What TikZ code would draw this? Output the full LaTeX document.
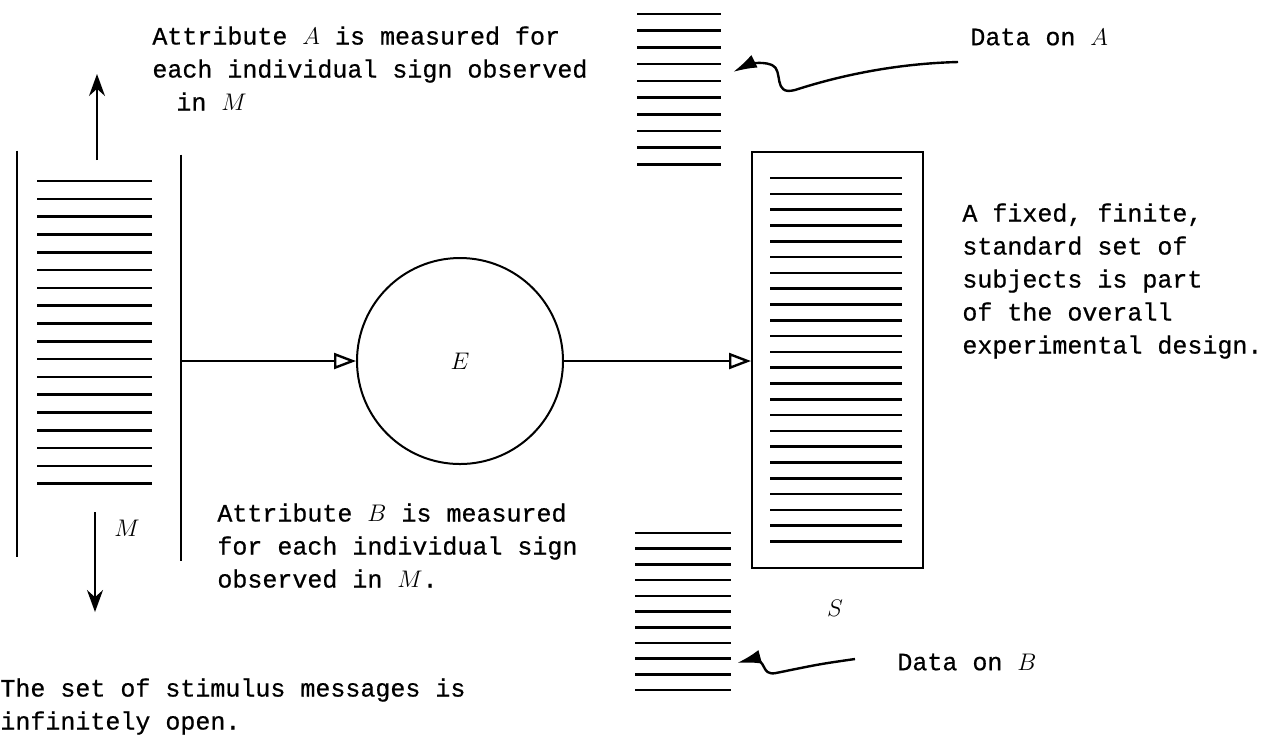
\documentclass[tikz,border=0pt]{standalone}
\usepackage{fontspec}
\usepackage{tikz}
\usetikzlibrary{arrows.meta,positioning,shapes}
\newfontfamily\typer[FakeBold=0.6]{Liberation Mono}
\tikzstyle{note}=[font=\typer\fontsize{12.5}{16.5}\selectfont, align=left,
  inner sep=0pt]
\tikzstyle{tag}=[font=\fontsize{12.5}{15}\selectfont, inner sep=1pt]
\tikzstyle{wall}=[line width=1pt]
\tikzstyle{hatch}=[line width=1.3pt]
\tikzstyle{flow}=[-{Triangle[open,length=11pt,width=8pt,line width=1.2pt]}, line width=0.7pt]
\tikzstyle{openarrow}=[-{Stealth[length=11pt,width=8pt]}, line width=0.8pt]
\tikzstyle{squig}=[-{Latex[length=12pt,width=7pt]}, line width=1.2pt]

\begin{document}
\begin{tikzpicture}[x=0.5pt, y=-0.5pt]
  \useasboundingbox (0,0) rectangle (1288,736);

  % the open set of messages
  \node[minimum width=82pt, minimum height=203pt, inner sep=0pt] (msgs) at (99,354) {};
  \draw[wall] (msgs.north west) -- (msgs.south west);
  \draw[wall] ([yshift=-2pt]msgs.north east) -- ([yshift=-2pt]msgs.south east);
  \foreach \i in {0,...,17}
    \draw[hatch] (37,181+17.8*\i) -- (152,181+17.8*\i);
  \node[tag] (mlabel) at (127,528) {$M$};
  \coordinate (up0) at (97,160);   \coordinate (up1) at (97,74);
  \coordinate (down0) at (95,512); \coordinate (down1) at (95,612);
  \draw[openarrow] (up0) -- (up1);
  \draw[openarrow] (down0) -- (down1);

  % experimenter
  \node[draw, circle, line width=1pt, minimum size=103pt, inner sep=0pt, tag] (exp) at (460,361) {$E$};

  % fixed set of subjects
  \node[draw, line width=1pt, minimum width=85.5pt, minimum height=208pt, inner sep=0pt] (subj) at (837.5,360) {};
  \foreach \i in {0,...,23}
    \draw[hatch] (770,178+15.8*\i) -- (902,178+15.8*\i);
  \node[tag] (slabel) at (835,608) {$S$};

  \draw[flow] (msgs.east |- exp.west) -- (exp.west);
  \draw[flow] (exp.east) -- (exp.east -| subj.west);

  % data columns
  \foreach \i in {0,...,9}
    \draw[hatch] (637,14+16.7*\i) -- (721,14+16.7*\i);
  \foreach \i in {0,...,10}
    \draw[hatch] (635,533+15.7*\i) -- (731,533+15.7*\i);

  \node[note, anchor=west] (dataA) at (970,37) {Data on $A$};
  \node[note, anchor=west] (dataB) at (897,662) {Data on $B$};
  \coordinate (tailA) at (958,62);  \coordinate (tipA) at (733,72);
  \coordinate (tailB) at (855,659); \coordinate (tipB) at (737,663);
  \draw[squig] (tailA) .. controls (880,64) and (820,82) .. (795,90)
    .. controls (772,96) and (784,70) .. (772,65)
    .. controls (760,60) and (745,66) .. (tipA);
  \draw[squig] (tailB) .. controls (820,664) .. (776,673)
    .. controls (760,676) and (768,659) .. (752,659) -- (tipB);

  % comments
  \node[note, anchor=north west] (attrA) at (152,26)
    {Attribute $A$ is measured for\\each individual sign observed\\\hspace*{12pt}in $M$};
  \node[note, anchor=north west] (attrB) at (217,503)
    {Attribute $B$ is measured\\for each individual sign\\observed in $M$.};
  \node[note, anchor=north west] (fixed) at (962,203)
    {A fixed, finite,\\standard set of\\subjects is part\\of the overall\\experimental design.};
  \node[note, anchor=north west] (open) at (0,678)
    {The set of stimulus messages is\\infinitely open.};
\end{tikzpicture}
\end{document}
